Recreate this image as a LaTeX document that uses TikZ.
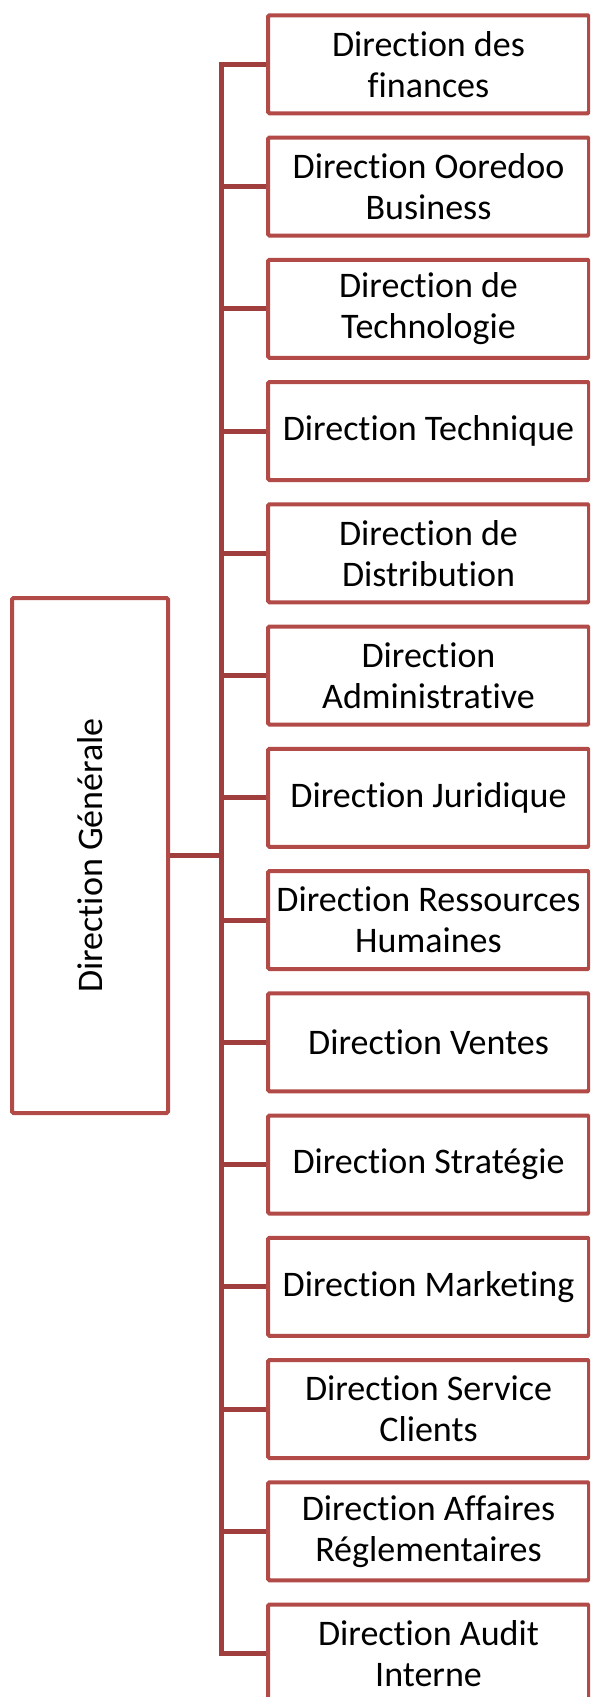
\documentclass[tikz,border=0pt]{standalone}
\usepackage{fontspec}
\setmainfont{Carlito}[RawFeature={-liga;-dlig;-clig}]
\definecolor{boxred}{RGB}{178,74,72}
\definecolor{linkred}{RGB}{160,62,62}
\begin{document}
\begin{tikzpicture}[x=1pt,y=-1pt,
  unit/.style={draw=boxred, line width=4pt, rounded corners=1.5pt, fill=white,
    rectangle, inner sep=0pt, align=center,
    font=\fontsize{36}{41}\selectfont},
  dept/.style={unit, minimum width=321pt, minimum height=98pt},
  link/.style={draw=linkred, line width=5pt}]
  \useasboundingbox (0,0) rectangle (590,1697);
  \clip (0,0) rectangle (590,1697);

  % head of the organisation
  \node[unit, rotate=90, minimum width=515pt, minimum height=156pt]
    (dg) at (90,855.5) {Direction Générale};

  % the fourteen directions
  \foreach \i/\t in {
      1/{Direction des\\finances},
      2/{Direction Ooredoo\\Business},
      3/{Direction de\\Technologie},
      4/{Direction Technique},
      5/{Direction de\\Distribution},
      6/{Direction\\Administrative},
      7/{Direction Juridique},
      8/{Direction Ressources\\Humaines},
      9/{Direction Ventes},
      10/{Direction Stratégie},
      11/{Direction Marketing},
      12/{Direction Service\\Clients},
      13/{Direction Affaires\\Réglementaires},
      14/{Direction Audit\\Interne}} {
    \node[dept] (d\i) at (428.5, {64.3 + 122.25*(\i-1)}) {\t};
  }

  % elbow connectors from the head to each direction
  \foreach \i in {1,...,14} {
    \draw[link] (dg.south) -- ++(51,0) |- (d\i.west);
  }
\end{tikzpicture}
\end{document}
